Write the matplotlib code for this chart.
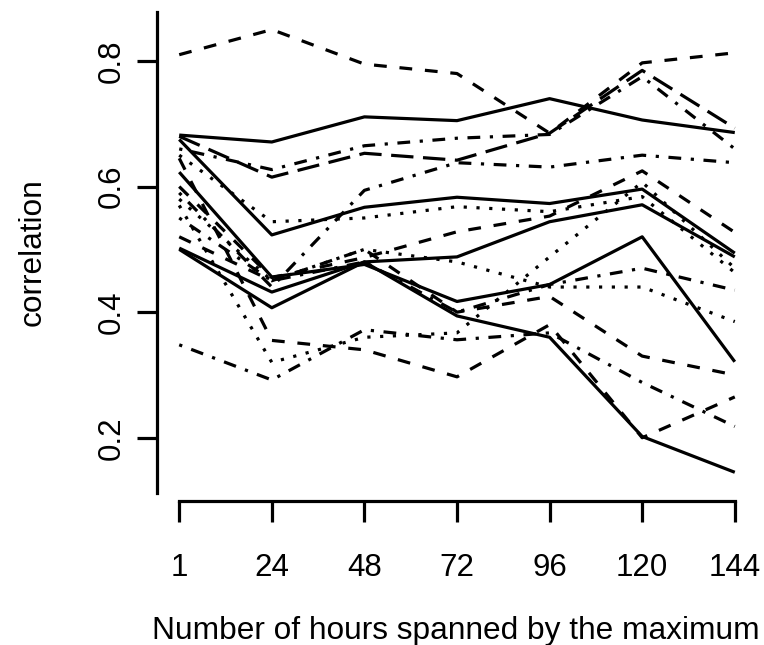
import matplotlib.pyplot as plt
import numpy as np

plt.rcParams['font.family'] = ['Liberation Sans', 'DejaVu Sans']

# x positions are categories, labelled by hours
hours = ['1', '24', '48', '72', '96', '120', '144']

# correlation series (one list per line)
s01 = [0.81, 0.85, 0.795, 0.78, 0.685, 0.797, 0.813]
s02 = [0.682, 0.671, 0.711, 0.705, 0.74, 0.706, 0.686]
s03 = [0.68, 0.615, 0.653, 0.642, 0.685, 0.785, 0.693]
s04 = [0.66, 0.627, 0.665, 0.677, 0.683, 0.775, 0.66]
s05 = [0.59, 0.44, 0.594, 0.638, 0.631, 0.65, 0.638]
s06 = [0.675, 0.523, 0.567, 0.583, 0.573, 0.596, 0.494]
s07 = [0.65, 0.544, 0.55, 0.568, 0.56, 0.584, 0.463]
s08 = [0.60, 0.455, 0.487, 0.528, 0.553, 0.625, 0.527]
s09 = [0.502, 0.432, 0.48, 0.488, 0.544, 0.571, 0.488]
s10 = [0.623, 0.456, 0.476, 0.417, 0.444, 0.52, 0.321]
s11 = [0.50, 0.407, 0.48, 0.394, 0.36, 0.202, 0.145]
s12 = [0.348, 0.292, 0.372, 0.356, 0.367, 0.288, 0.218]
s13 = [0.55, 0.45, 0.48, 0.40, 0.444, 0.47, 0.435]
s14 = [0.58, 0.45, 0.50, 0.48, 0.44, 0.44, 0.385]
s15 = [0.57, 0.32, 0.36, 0.367, 0.488, 0.607, 0.47]
s16 = [0.645, 0.355, 0.34, 0.297, 0.38, 0.2, 0.265]
s17 = [0.52, 0.45, 0.50, 0.40, 0.425, 0.33, 0.30]

series = [s01, s02, s03, s04, s05, s06, s07, s08, s09,
          s10, s11, s12, s13, s14, s15, s16, s17]

# R-style line types, dash units scale with line width
solid = None
dashed = (4, 4)
dotted = (1, 3)
dotdash = (1, 3, 4, 3)
longdash = (7, 3)
styles = [dashed, solid, longdash, dotdash, dotdash, solid, dotted, dashed,
          solid, solid, solid, dotdash, dotdash, dotted, dotted, dashed, dashed]

fig = plt.figure(figsize=(7.64, 6.45), dpi=100)
ax = fig.add_axes([157 / 764, 1 - 493 / 645, 600 / 764, 481 / 645])

x = np.arange(1, len(hours) + 1)
for vals, st in zip(series, styles):
    line, = ax.plot(x, vals, color='black', lw=2.3, solid_capstyle='butt')
    if st is not None:
        line.set_dashes(st)
        line.set_dash_capstyle('butt')

ax.set_xlim(0.76, 7.24)
ax.set_ylim(0.112, 0.878)

ax.spines['top'].set_visible(False)
ax.spines['right'].set_visible(False)
ax.spines['left'].set_linewidth(2.3)
ax.spines['bottom'].set_linewidth(2.3)
ax.spines['bottom'].set_position(('outward', 6))
ax.spines['bottom'].set_bounds(1, 7)

ax.set_xticks(x)
ax.set_xticklabels(hours)
ax.set_yticks([0.2, 0.4, 0.6, 0.8])
ax.set_yticklabels(['0.2', '0.4', '0.6', '0.8'])

ax.tick_params(axis='x', length=15, width=2.3, labelsize=22.5, pad=22)
ax.tick_params(axis='y', length=14.5, width=2.3, labelsize=22.5, pad=7,
               labelrotation=90)
for lab in ax.get_yticklabels():
    lab.set_va('center')

fig.text(456 / 764, 1 - 639 / 645, 'Number of hours spanned by the maximum',
         ha='center', va='baseline', fontsize=22.8)
fig.text(33 / 764, 1 - 252 / 645, 'correlation', rotation=90,
         ha='center', va='center', fontsize=22.8)

fig.savefig('out.png', dpi=100)
